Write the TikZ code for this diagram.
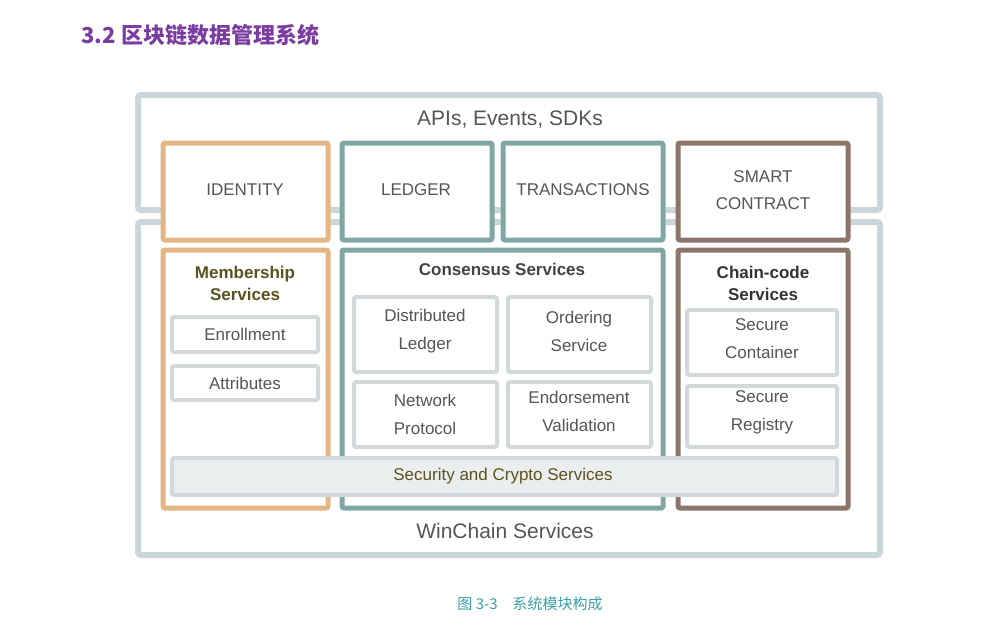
\documentclass[tikz,border=0pt]{standalone}
\usepackage{fontspec}
\setmainfont{Liberation Sans}
\newfontfamily\cjk{Noto Sans CJK SC}
\usepackage{tikz}
\usetikzlibrary{positioning}
\definecolor{frame}{HTML}{CBD6DA}
\definecolor{idcol}{HTML}{E3B683}
\definecolor{ledcol}{HTML}{7FA7A4}
\definecolor{sccol}{HTML}{8C766A}
\definecolor{subcol}{HTML}{D3D9DB}
\definecolor{txt}{HTML}{555555}
\definecolor{olive}{HTML}{5A5320}
\definecolor{titlecol}{HTML}{7A3CA0}
\definecolor{capcol}{HTML}{3A9FA8}
\tikzset{
  outerbox/.style={draw=frame,line width=6pt,rounded corners=3pt},
  colbox/.style={line width=5pt,rounded corners=2pt,fill=white},
  subbox/.style={draw=subcol,line width=4pt,fill=white,rounded corners=2pt},
  lbl/.style={font=\fontsize{17}{20}\selectfont,text=txt,align=center},
  head/.style={font=\fontsize{17}{22}\selectfont\bfseries,align=center}
}
\begin{document}
\begin{tikzpicture}[x=1pt,y=-1pt]
\useasboundingbox (0,0) rectangle (1008,630);
\node[font=\cjk\fontsize{22}{24}\selectfont\bfseries,text=titlecol,anchor=west] (title) at (78,35) {3.2 区块链数据管理系统};

% outer frames
\draw[outerbox] (138,95) rectangle (880,210);
\draw[outerbox] (138,222) rectangle (880,555);
\node[lbl,font=\fontsize{21}{24}\selectfont] (api) at (510,120) {APIs, Events, SDKs};
\node[lbl,font=\fontsize{21}{24}\selectfont] (win) at (505,531) {WinChain Services};

% upper column heads
\draw[colbox,draw=idcol] (163,143) rectangle (328,240);
\draw[colbox,draw=ledcol] (342,143) rectangle (492,240);
\draw[colbox,draw=ledcol] (503,143) rectangle (663,240);
\draw[colbox,draw=sccol] (678,143) rectangle (848,240);
\node[lbl] (ident) at (245,190) {IDENTITY};
\node[lbl] (ledger) at (416,190) {LEDGER};
\node[lbl] (trans) at (583,190) {TRANSACTIONS};
\node[lbl,font=\fontsize{17}{27}\selectfont] (smart) at (763,190) {SMART\\CONTRACT};

% lower columns
\draw[colbox,draw=idcol] (163,250) rectangle (328,508);
\draw[colbox,draw=ledcol] (342,250) rectangle (663,508);
\draw[colbox,draw=sccol] (678,250) rectangle (848,508);
\node[head,text=olive] (member) at (245,283) {Membership\\Services};
\node[head,text=txt!80!black] (consensus) at (502,269) {Consensus Services};
\node[head,text=black!80] (chain) at (763,283) {Chain-code\\Services};

% sub boxes
\draw[subbox] (172,317) rectangle (318,352);
\draw[subbox] (172,366) rectangle (318,400);
\draw[subbox] (354,297) rectangle (497,372);
\draw[subbox] (508,297) rectangle (651,372);
\draw[subbox] (354,382) rectangle (497,447);
\draw[subbox] (508,382) rectangle (651,447);
\draw[subbox] (687,310) rectangle (837,375);
\draw[subbox] (687,386) rectangle (837,447);
\draw[subbox,fill=subcol!45] (172,458) rectangle (837,495);
\node[lbl] (enroll) at (245,334) {Enrollment};
\node[lbl] (attr) at (245,383) {Attributes};
\node[lbl,font=\fontsize{17}{28}\selectfont] (dist) at (425,331) {Distributed\\Ledger};
\node[lbl,font=\fontsize{17}{28}\selectfont] (order) at (579,331) {Ordering\\Service};
\node[lbl,font=\fontsize{17}{28}\selectfont] (net) at (425,414) {Network\\Protocol};
\node[lbl,font=\fontsize{17}{28}\selectfont] (endorse) at (579,411) {Endorsement\\Validation};
\node[lbl,font=\fontsize{17}{28}\selectfont] (container) at (762,339) {Secure\\Container};
\node[lbl,font=\fontsize{17}{28}\selectfont] (registry) at (762,412) {Secure\\Registry};
\node[lbl,text=olive] (crypto) at (503,476) {Security and Crypto Services};

\node[font=\cjk\fontsize{15}{18}\selectfont,text=capcol] (cap) at (530,604) {图 3-3\quad 系统模块构成};
\end{tikzpicture}
\end{document}
